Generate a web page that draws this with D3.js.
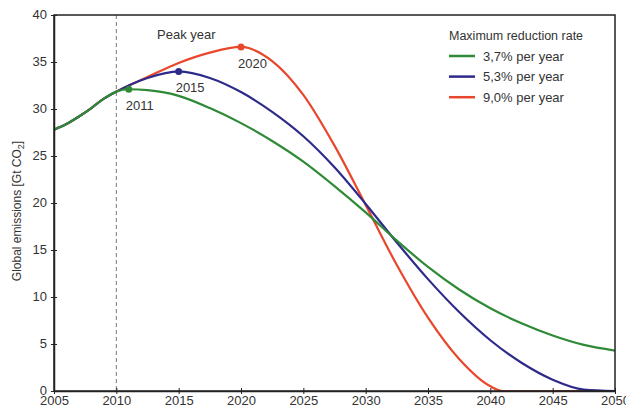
<!DOCTYPE html>
<html><head><meta charset="utf-8">
<script src="https://cdn.jsdelivr.net/npm/d3@7"></script>
<style>body{margin:0;background:#fff;}svg{display:block;font-family:"Liberation Sans",Arial,sans-serif;}</style>
</head><body><svg id="c" width="626" height="412"></svg>
<script>
const xTicks = [2005,2010,2015,2020,2025,2030,2035,2040,2045,2050];
const yTicks = [0,5,10,15,20,25,30,35,40];
const seriesNames = ["3,7% per year","5,3% per year","9,0% per year"];
const seriesColors = ["#2e8a36","#2e2a8a","#e8472b"];
const commonYears = [2005,2006,2007,2008,2009,2010];
const commonValues = [27.8,28.4,29.2,30.1,31.1,31.85];
const greenYears = [2011,2012.5,2015,2017.5,2020,2022.5,2025,2027.5,2030,2032.5,2035,2037.5,2040,2042.5,2045,2047.5,2050];
const greenValues = [32.1,32.0,31.4,30.1,28.5,26.6,24.4,21.8,19.0,16.0,13.2,10.8,8.8,7.2,5.9,4.9,4.3];
const blueYears = [2012.5,2015,2017.5,2020,2022.5,2025,2027.5,2030,2032.5,2035,2037.5,2040,2042.5,2045,2047.5,2050];
const blueValues = [33.3,34.0,33.3,31.8,29.7,27.1,23.8,19.9,15.8,11.9,8.4,5.4,3.0,1.2,0.15,0];
const redYears = [2012.5,2015,2017.5,2020,2022.5,2025,2027.5,2030,2032.5,2035,2037.5,2040,2041,2050];
const redValues = [33.4,34.9,36.0,36.6,35.1,31.5,26.1,19.8,13.4,7.8,3.4,0.5,0,0];
const peakYears = [2011,2015,2020];
const peakValues = [32.1,34.0,36.6];
const peakLabels = ["2011","2015","2020"];

const svg = d3.select("#c");
const L=54,T=15,R=615,B=391;
const x = d3.scaleLinear().domain([2005,2050]).range([L,R]);
const y = d3.scaleLinear().domain([0,40]).range([B,T]);
const txt="#333";

svg.append("clipPath").attr("id","cp").append("rect").attr("x",L).attr("y",T).attr("width",R-L).attr("height",B-T);

// dashed 2010
svg.append("line").attr("x1",x(2010)).attr("x2",x(2010)).attr("y1",T).attr("y2",B)
  .attr("stroke","#777").attr("stroke-width",1).attr("stroke-dasharray","4,3");

const line = d3.line().x(d=>x(d[0])).y(d=>y(d[1])).curve(d3.curveMonotoneX);
function mk(yrs,vals){return commonYears.map((yy,i)=>[yy,commonValues[i]]).concat(yrs.map((yy,i)=>[yy,vals[i]]));}
const data=[mk(greenYears,greenValues),mk(blueYears,blueValues),mk(redYears,redValues)];
const g=svg.append("g").attr("clip-path","url(#cp)");
[2,1,0].forEach(i=>{
  g.append("path").datum(data[i]).attr("d",line).attr("fill","none")
    .attr("stroke",seriesColors[i]).attr("stroke-width",2.2);
});

// frame
svg.append("rect").attr("x",L).attr("y",T).attr("width",R-L).attr("height",B-T)
  .attr("fill","none").attr("stroke","#222").attr("stroke-width",1.5);

// axes
const xa = svg.append("g").attr("transform",`translate(0,${B})`)
  .call(d3.axisBottom(x).tickValues(xTicks).tickFormat(d3.format("d")).tickSizeInner(4).tickSizeOuter(0));
xa.select(".domain").attr("stroke","#222").attr("stroke-width",1.5);
xa.selectAll(".tick line").attr("stroke","#222").attr("y1",-3).attr("y2",3);
xa.selectAll("text").attr("fill",txt).attr("font-size",13).attr("dy","0.55em").attr("y",7);

const ya = svg.append("g").attr("transform",`translate(${L},0)`)
  .call(d3.axisLeft(y).tickValues(yTicks).tickSizeInner(4).tickSizeOuter(0));
ya.select(".domain").attr("stroke","#222").attr("stroke-width",1.5);
ya.selectAll(".tick line").attr("stroke","#222").attr("x1",3).attr("x2",-3);
ya.selectAll("text").attr("fill",txt).attr("font-size",13).attr("x",-7).attr("dy","0.28em");

// y label
svg.append("text").attr("transform",`translate(21,${(T+B)/2+8}) rotate(-90)`)
  .attr("text-anchor","middle").attr("fill",txt).attr("font-size",12)
  .html('Global emissions [Gt CO<tspan font-size="9" dy="3">2</tspan><tspan dy="-3">]</tspan>');

// peaks
peakYears.forEach((py,i)=>{
  svg.append("circle").attr("cx",x(py)).attr("cy",y(peakValues[i])).attr("r",3.5).attr("fill",seriesColors[i]);
  svg.append("text").attr("x",x(py)-3).attr("y",y(peakValues[i])+21).attr("fill",txt).attr("font-size",13).text(peakLabels[i]);
});
svg.append("text").attr("x",157).attr("y",39).attr("fill",txt).attr("font-size",13).text("Peak year");

// legend
svg.append("text").attr("x",449).attr("y",40).attr("fill",txt).attr("font-size",12.5).text("Maximum reduction rate");
seriesNames.forEach((n,i)=>{
  const yy=56+i*20.6;
  svg.append("line").attr("x1",449).attr("x2",475).attr("y1",yy).attr("y2",yy).attr("stroke",seriesColors[i]).attr("stroke-width",2.5);
  svg.append("text").attr("x",483).attr("y",yy+4.5).attr("fill",txt).attr("font-size",13).text(n);
});
</script></body></html>
